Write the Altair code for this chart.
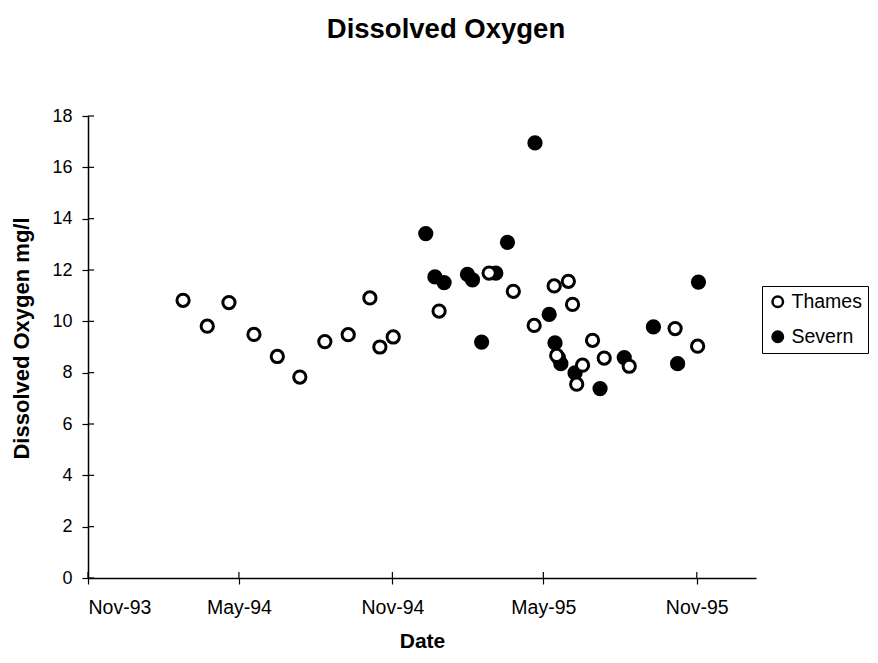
import altair as alt
import pandas as pd

# ---- data ----
thames_dates = [
    "1994-02-23", "1994-03-24", "1994-04-19", "1994-05-19", "1994-06-16",
    "1994-07-13", "1994-08-12", "1994-09-09", "1994-10-05", "1994-10-17",
    "1994-11-02", "1994-12-27", "1995-02-25", "1995-03-26", "1995-04-20",
    "1995-05-14", "1995-05-17", "1995-05-31", "1995-06-05", "1995-06-10",
    "1995-06-17", "1995-06-29", "1995-07-13", "1995-08-12", "1995-10-06",
    "1995-11-02",
]
thames_values = [
    10.82, 9.81, 10.73, 9.49, 8.63,
    7.83, 9.21, 9.48, 10.91, 9.00,
    9.39, 10.40, 11.88, 11.17, 9.84,
    11.38, 8.67, 11.56, 10.66, 7.55,
    8.29, 9.26, 8.57, 8.25, 9.72,
    9.03,
]
severn_dates = [
    "1994-12-11", "1994-12-22", "1995-01-02", "1995-01-30", "1995-02-05",
    "1995-02-16", "1995-03-05", "1995-03-19", "1995-04-21", "1995-05-08",
    "1995-05-15", "1995-05-19", "1995-05-22", "1995-06-08", "1995-07-08",
    "1995-08-06", "1995-09-10", "1995-10-09", "1995-11-03",
]
severn_values = [
    13.42, 11.73, 11.51, 11.83, 11.62,
    9.19, 11.88, 13.08, 16.95, 10.27,
    9.16, 8.59, 8.35, 7.99, 7.38,
    8.59, 9.78, 8.35, 11.53,
]
series_names = ["Thames", "Severn"]
x_tick_dates = ["1993-11-01", "1994-05-01", "1994-11-01", "1995-05-01", "1995-11-01"]
y_tick_values = [0, 2, 4, 6, 8, 10, 12, 14, 16, 18]

# Severn first so Thames circles are drawn on top
df = pd.DataFrame({
    "date": severn_dates + thames_dates,
    "do": severn_values + thames_values,
    "river": ["Severn"] * len(severn_dates) + ["Thames"] * len(thames_dates),
})
xt = pd.DataFrame({"date": x_tick_dates})
yt = pd.DataFrame({"v": y_tick_values})

FONT = "Liberation Sans"


def dt(s):
    y, m, d = (int(p) for p in s.split("-"))
    return alt.DateTime(year=y, month=m, date=d, utc=True)


x_scale = alt.Scale(type="utc", domain=[dt("1993-11-01"), dt("1996-01-11")])
y_scale = alt.Scale(domain=[0, 18], nice=False)

points = alt.Chart(df).mark_point(
    filled=True, shape="circle", size=150, stroke="black", strokeWidth=3, opacity=1
).encode(
    x=alt.X(
        "date:T",
        scale=x_scale,
        title="Date",
        axis=alt.Axis(
            values=[dt(s) for s in x_tick_dates],
            labelExpr="utcFormat(datum.value, '%b-%y')",
            grid=False,
            domainColor="black",
            domainWidth=1.5,
            tickColor="black",
            tickSize=6,
            tickWidth=1.2,
            labelFont=FONT,
            labelFontSize=19.5,
            labelColor="black",
            labelPadding=14,
            titleFont=FONT,
            titleFontSize=21,
            titleFontWeight="bold",
            titleColor="black",
            titlePadding=14,
        ),
    ),
    y=alt.Y(
        "do:Q",
        scale=y_scale,
        title="Dissolved Oxygen mg/l",
        axis=alt.Axis(
            values=y_tick_values,
            grid=False,
            domainColor="black",
            domainWidth=1.5,
            tickColor="black",
            tickSize=6,
            tickWidth=1.2,
            labelFont=FONT,
            labelFontSize=18,
            labelColor="black",
            labelPadding=10,
            titleFont=FONT,
            titleFontSize=22,
            titleFontWeight="bold",
            titleColor="black",
            titlePadding=18,
            titleY=222,
        ),
    ),
    fill=alt.Fill(
        "river:N",
        scale=alt.Scale(domain=series_names, range=["white", "black"]),
        legend=alt.Legend(
            title=None,
            orient="none",
            legendX=674,
            legendY=170,
            strokeColor="black",
            fillColor="white",
            padding=6,
            labelFont=FONT,
            labelFontSize=19.5,
            labelColor="black",
            labelOffset=4,
            symbolType="circle",
            symbolSize=110,
            symbolStrokeColor="black",
            symbolStrokeWidth=2.5,
            rowPadding=14,
        ),
    ),
)

x_inner = alt.Chart(xt).mark_rule(color="black", strokeWidth=1.2).encode(
    x=alt.X("date:T", scale=x_scale),
    y=alt.value(456),
    y2=alt.value(462),
)
y_inner = alt.Chart(yt).mark_rule(color="black", strokeWidth=1.2).encode(
    y=alt.Y("v:Q", scale=y_scale),
    x=alt.value(0),
    x2=alt.value(6),
)

chart = alt.layer(x_inner, y_inner, points).properties(
    width=668,
    height=462,
    background="white",
    padding={"left": 80, "top": 108, "right": 114, "bottom": 75},
    autosize=alt.AutoSizeParams(type="none"),
    title=alt.Title(
        "Dissolved Oxygen",
        font=FONT,
        fontSize=27.5,
        fontWeight="bold",
        color="black",
        anchor="middle",
        dx=24,
        offset=64,
    ),
).configure_view(stroke="transparent")

chart.save("out.html", embed_options={"renderer": "svg", "actions": False})
